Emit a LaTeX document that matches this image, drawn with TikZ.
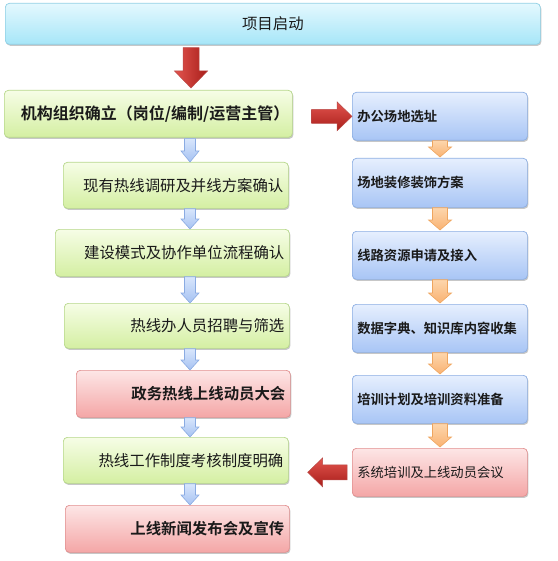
\documentclass[tikz,border=0pt]{standalone}
\usepackage{fontspec}
\setmainfont{Noto Sans CJK SC}[BoldFont={Noto Sans CJK SC Bold}]
\usetikzlibrary{calc,shadows}
\definecolor{cyanT}{HTML}{E4F8FE}
\definecolor{cyanB}{HTML}{A6E6F8}
\definecolor{cyanD}{HTML}{8FCFE4}
\definecolor{grnT}{HTML}{F6FDE6}
\definecolor{grnB}{HTML}{D4EFA2}
\definecolor{grnD}{HTML}{B6D78A}
\definecolor{redT}{HTML}{FDE6E6}
\definecolor{redB}{HTML}{F4A6A6}
\definecolor{redD}{HTML}{E18F8F}
\definecolor{bluT}{HTML}{E6EFFE}
\definecolor{bluB}{HTML}{A8C5F5}
\definecolor{bluD}{HTML}{8CAEE2}
\definecolor{arrRL}{HTML}{E2544E}
\definecolor{arrRD}{HTML}{A81E1A}
\definecolor{arrBT}{HTML}{D8E6FC}
\definecolor{arrBB}{HTML}{A6C2F2}
\definecolor{arrBD}{HTML}{8AABE2}
\definecolor{arrOT}{HTML}{FDD6AC}
\definecolor{arrOB}{HTML}{F9B272}
\definecolor{arrOD}{HTML}{EFA55E}
\definecolor{txt}{HTML}{1A1A1A}
\newcommand\blkdown[6]{%
  \path[#1] let \p1=(#2), \p2=(#3) in
    (\x1-#4pt,\y1) -- (\x1+#4pt,\y1) -- (\x1+#4pt,\y2+#6pt) -- (\x1+#5pt,\y2+#6pt)
    -- (\x1,\y2) -- (\x1-#5pt,\y2+#6pt) -- (\x1-#4pt,\y2+#6pt) -- cycle;}
\newcommand\blkhoriz[6]{% style, tail point, tip point, shaft half, head half, head length (signed)
  \path[#1] let \p1=(#2), \p2=(#3) in
    (\x1,\y1-#4pt) -- (\x2-#6pt,\y1-#4pt) -- (\x2-#6pt,\y1-#5pt) -- (\x2,\y1)
    -- (\x2-#6pt,\y1+#5pt) -- (\x2-#6pt,\y1+#4pt) -- (\x1,\y1+#4pt) -- cycle;}
\tikzset{
  boxbase/.style={rounded corners=4pt, draw, line width=0.7pt, inner sep=0pt,
    anchor=north west, text=txt,
    drop shadow={shadow xshift=1pt, shadow yshift=-1.5pt, opacity=0.22, fill=black}},
  cyanbox/.style={boxbase, top color=cyanT, bottom color=cyanB, draw=cyanD},
  grnbox/.style={boxbase, top color=grnT, bottom color=grnB, draw=grnD},
  redbox/.style={boxbase, top color=redT, bottom color=redB, draw=redD},
  blubox/.style={boxbase, top color=bluT, bottom color=bluB, draw=bluD},
  lefttext/.style={font=\fontsize{15.4}{18}\selectfont, inner xsep=5pt, align=right},
  righttext/.style={font=\fontsize{13.3}{16}\selectfont, inner xsep=5pt, align=left,
    minimum width=175pt, text width=165pt, minimum height=48pt},
  redarrow/.style={left color=arrRL, right color=arrRD, draw=arrRD!80, line width=0.5pt},
  redarrowh/.style={top color=arrRL, bottom color=arrRD, draw=arrRD!80, line width=0.5pt},
  bluarrow/.style={top color=arrBT, bottom color=arrBB, draw=arrBD, line width=0.6pt},
  orgarrow/.style={top color=arrOT, bottom color=arrOB, draw=arrOD, line width=0.6pt},
}
\begin{document}
\begin{tikzpicture}[x=1pt,y=-1pt]
\useasboundingbox (0,0) rectangle (557,561);
% column coordinates for arrows
\coordinate (lcol) at (190,0);
\coordinate (rcol) at (440,0);
% top
\node[cyanbox, minimum width=535pt, minimum height=41pt, text width=523pt, align=center,
  font=\fontsize{15.4}{18}\selectfont] (top) at (5,3) {项目启动};
% left column
\node[grnbox, minimum width=288pt, minimum height=47pt, text width=282pt, inner xsep=3pt,
  align=right, font=\fontsize{16}{19}\selectfont\bfseries] (b1) at (4,90) {机构组织确立（岗位/编制/运营主管）};
\node[grnbox, lefttext, minimum width=225pt, minimum height=46pt, text width=215pt] (b2) at (63,162) {现有热线调研及并线方案确认};
\node[grnbox, lefttext, minimum width=234pt, minimum height=47pt, text width=224pt] (b3) at (55,229) {建设模式及协作单位流程确认};
\node[grnbox, lefttext, minimum width=225pt, minimum height=45pt, text width=215pt] (b4) at (64,303) {热线办人员招聘与筛选};
\node[redbox, lefttext, minimum width=214pt, minimum height=47pt, text width=204pt, font=\fontsize{15.4}{18}\selectfont\bfseries] (b5) at (76,370) {政务热线上线动员大会};
\node[grnbox, lefttext, minimum width=225pt, minimum height=46pt, text width=215pt] (b6) at (63,437) {热线工作制度考核制度明确};
\node[redbox, lefttext, minimum width=224pt, minimum height=47pt, text width=214pt, font=\fontsize{15.4}{18}\selectfont\bfseries] (b7) at (65,505) {上线新闻发布会及宣传};
% right column
\node[blubox, righttext, font=\fontsize{13.3}{16}\selectfont\bfseries] (r1) at (352,92) {办公场地选址};
\node[blubox, righttext, font=\fontsize{13.3}{16}\selectfont\bfseries, minimum height=49pt] (r2) at (352,158) {场地装修装饰方案};
\node[blubox, righttext, font=\fontsize{13.3}{16}\selectfont\bfseries] (r3) at (352,231) {线路资源申请及接入};
\node[blubox, righttext, font=\fontsize{13.3}{16}\selectfont\bfseries] (r4) at (352,304) {数据字典、知识库内容收集};
\node[blubox, righttext, font=\fontsize{13.3}{16}\selectfont\bfseries] (r5) at (352,375) {培训计划及培训资料准备};
\node[redbox, righttext] (r6) at (352,448) {系统培训及上线动员会议};
% big red arrows
\blkdown{redarrow}{$(top.south -| lcol)+(1,3)$}{$(b1.north -| lcol)+(1,-2)$}{8}{16.5}{17}
\blkhoriz{redarrowh}{$(b1.east |- r1.west)+(19,0)$}{r1.west}{7}{14.5}{15}
\blkhoriz{redarrowh}{$(r6.west)+(-5,0)$}{$(b6.east |- r6.west)+(19,0)$}{7.5}{14.5}{-15}
% small blue arrows
\blkdown{bluarrow}{$(b1.south -| lcol)+(0,1)$}{b2.north -| lcol}{5.5}{9}{11}
\blkdown{bluarrow}{b2.south -| lcol}{b3.north -| lcol}{5.5}{9}{10}
\blkdown{bluarrow}{b3.south -| lcol}{b4.north -| lcol}{5.5}{9}{10}
\blkdown{bluarrow}{b4.south -| lcol}{b5.north -| lcol}{5.5}{9}{10}
\blkdown{bluarrow}{b5.south -| lcol}{b6.north -| lcol}{5.5}{9}{10}
\blkdown{bluarrow}{b6.south -| lcol}{b7.north -| lcol}{5.5}{9}{10}
% orange arrows
\blkdown{orgarrow}{r1.south -| rcol}{$(r2.north -| rcol)+(0,-1)$}{7.5}{11.5}{10}
\blkdown{orgarrow}{r2.south -| rcol}{$(r3.north -| rcol)+(0,-1)$}{7.5}{11.5}{10}
\blkdown{orgarrow}{r3.south -| rcol}{$(r4.north -| rcol)+(0,-1)$}{7.5}{11.5}{10}
\blkdown{orgarrow}{r4.south -| rcol}{$(r5.north -| rcol)+(0,-1)$}{7.5}{11.5}{10}
\blkdown{orgarrow}{r5.south -| rcol}{$(r6.north -| rcol)+(0,-1)$}{7.5}{11.5}{10}
\end{tikzpicture}
\end{document}
